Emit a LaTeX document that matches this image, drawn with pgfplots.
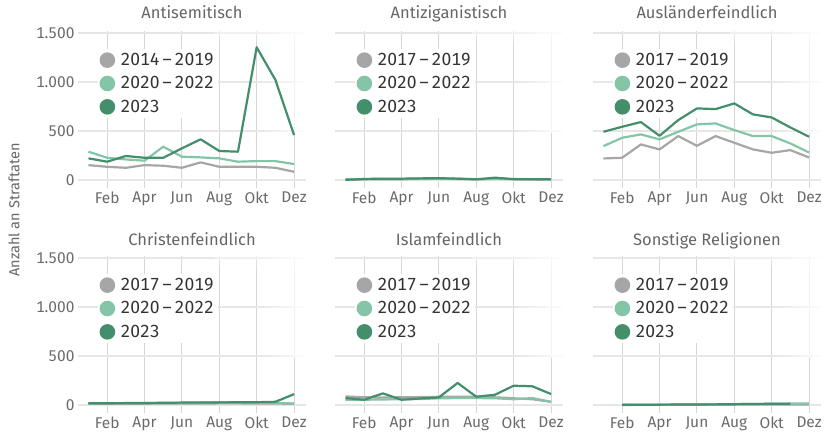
\documentclass[border=0pt]{standalone}
\usepackage{pgfplots}
\pgfplotsset{compat=1.18}
\usepackage{pgfplotstable}
\usetikzlibrary{fadings}
\usepackage{fontspec}
\setmainfont{Fira Sans}[Numbers=Monospaced]
\definecolor{cgray}{HTML}{A6A6A6}
\definecolor{clight}{HTML}{85C5A7}
\definecolor{cdark}{HTML}{438F6B}
\definecolor{cgridv}{HTML}{D6D6D6}
\definecolor{cgridh}{HTML}{E6E6E6}
\definecolor{ctick}{HTML}{6B6B6B}
\definecolor{ctitle}{HTML}{666666}
\definecolor{ctext}{HTML}{333333}

% month, series a (older), b (2020-2022), c (2023)
\pgfplotstableread{
m a b c
1 153 290 222
2 136 228 188
3 126 211 246
4 153 198 228
5 147 341 228
6 126 239 324
7 181 232 416
8 136 222 297
9 136 188 290
10 136 194 1354
11 126 194 1023
12 85 164 460
}\tabA
\pgfplotstableread{
m a b c
1 5 8 3
2 8 10 12
3 10 12 15
4 9 12 15
5 12 15 18
6 14 16 20
7 12 14 15
8 9 10 8
9 12 15 25
10 10 12 10
11 8 10 10
12 6 8 8
}\tabB
\pgfplotstableread{
m a b c
1 221 347 493
2 228 432 544
3 364 466 592
4 313 415 452
5 449 493 612
6 350 568 731
7 449 578 724
8 381 510 782
9 313 449 670
10 279 449 639
11 306 374 537
12 231 282 442
}\tabC
\pgfplotstableread{
m a b c
1 14 18 20
2 14 18 20
3 15 19 21
4 15 20 22
5 16 22 24
6 17 24 26
7 17 26 27
8 18 30 28
9 18 28 29
10 17 24 30
11 16 22 34
12 14 17 112
}\tabD
\pgfplotstableread{
m a b c
1 89 55 72
2 80 55 55
3 78 58 120
4 80 60 55
5 82 62 68
6 85 70 79
7 85 72 226
8 85 72 86
9 80 70 106
10 70 60 198
11 60 72 192
12 34 34 113
}\tabE
\pgfplotstableread{
m a b c
2 2 3 3
3 3 4 4
4 3 5 5
5 4 6 6
6 4 7 7
7 5 8 8
8 5 10 10
9 6 12 12
10 6 14 14
11 7 16 15
12 7 18 nan
}\tabF

\pgfplotsset{
  frame/.style={
    scale only axis, width=228pt, height=157pt,
    xmin=0.44, xmax=12.64, ymin=-80, ymax=1520,
    axis line style={draw=none}, major tick length=0pt,
  },
  panel/.style={
    frame,
    xtick={2,4,6,8,10,12}, xticklabels={Feb,Apr,Jun,Aug,Okt,Dez},
    ytick={0,500,1000,1500},
    grid=major,
    x grid style={cgridv, line width=0.9pt},
    y grid style={cgridh, line width=1.3pt},
    tick label style={font=\fontsize{15.5}{15.5}\selectfont, text=ctick},
    /pgf/number format/assume math mode=true,
    title style={font=\fontsize{16.5}{16.5}\selectfont, text=ctitle, at={(0.5,1)}, anchor=base, yshift=6pt},
    legend style={at={(0.085,0.885)}, anchor=north west, draw=none, fill=white,
      font=\fontsize{17.5}{17.5}\selectfont, text=ctext, row sep=5.6pt, inner sep=2pt},
    legend cell align=left,
    legend image code/.code={\path (0,0) (18pt,0); \fill[##1, draw=none] (7pt,0) circle (7.8pt);},
    extra description/.code={
      \fill[white, path fading=west] (rel axis cs:0.78,0.35) rectangle (rel axis cs:1.02,1.03);
      \fill[white, path fading=south, opacity=0.6] (rel axis cs:0.6,0.9) rectangle (rel axis cs:1.02,1.03);
    },
  },
  lines/.style={
    frame, xtick=\empty, ytick=\empty,
    every axis plot/.append style={line width=2.2pt, line join=round, mark=none},
    unbounded coords=jump,
  },
}
\newcommand\legendimgs[1]{%
  \addlegendimage{cgray}\addlegendentry{#1}
  \addlegendimage{clight}\addlegendentry{2020\,–\,2022}
  \addlegendimage{cdark}\addlegendentry{2023}}
\newcommand\threelines[1]{%
  \addplot[cgray] table[x=m,y=a] {#1};
  \addplot[clight] table[x=m,y=b] {#1};
  \addplot[cdark] table[x=m,y=c] {#1};}

\begin{document}
\begin{tikzpicture}
\useasboundingbox (0,0) rectangle (829pt,433pt);
\node[rotate=90, font=\fontsize{14.5}{14.5}\selectfont, text=ctitle] at (14pt,223pt) {Anzahl an Straftaten};

% ---- top row
\begin{axis}[panel, at={(78pt,245pt)}, anchor=south west, title={Antisemitisch},
  yticklabels={0,500,1.000,1.500}]
\legendimgs{2014\,–\,2019}
\end{axis}
\begin{axis}[lines, at={(78pt,245pt)}, anchor=south west]
\threelines{\tabA}
\end{axis}

\begin{axis}[panel, at={(335pt,245pt)}, anchor=south west, title={Antiziganistisch},
  yticklabels={}]
\legendimgs{2017\,–\,2019}
\end{axis}
\begin{axis}[lines, at={(335pt,245pt)}, anchor=south west]
\threelines{\tabB}
\end{axis}

\begin{axis}[panel, at={(593pt,245pt)}, anchor=south west, title={Ausländerfeindlich},
  yticklabels={}]
\legendimgs{2017\,–\,2019}
\end{axis}
\begin{axis}[lines, at={(593pt,245pt)}, anchor=south west]
\threelines{\tabC}
\end{axis}

% ---- bottom row
\begin{axis}[panel, at={(78pt,20pt)}, anchor=south west, title={Christenfeindlich},
  yticklabels={0,500,1.000,1.500}, title style={yshift=-2pt}]
\legendimgs{2017\,–\,2019}
\end{axis}
\begin{axis}[lines, at={(78pt,20pt)}, anchor=south west]
\threelines{\tabD}
\end{axis}

\begin{axis}[panel, at={(335pt,20pt)}, anchor=south west, title={Islamfeindlich},
  yticklabels={}, title style={yshift=-2pt}]
\legendimgs{2017\,–\,2019}
\end{axis}
\begin{axis}[lines, at={(335pt,20pt)}, anchor=south west]
\threelines{\tabE}
\end{axis}

\begin{axis}[panel, at={(593pt,20pt)}, anchor=south west, title={Sonstige Religionen},
  yticklabels={}, title style={yshift=-2pt}]
\legendimgs{2017\,–\,2019}
\end{axis}
\begin{axis}[lines, at={(593pt,20pt)}, anchor=south west]
\threelines{\tabF}
\end{axis}
\end{tikzpicture}
\end{document}
